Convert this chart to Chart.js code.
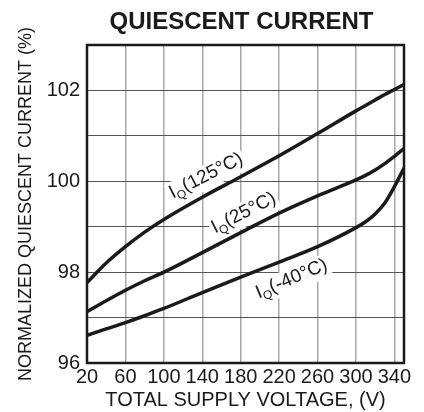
<!DOCTYPE html>
<html>
<head>
<meta charset="utf-8">
<script src="https://cdn.jsdelivr.net/npm/chart.js@4"></script>
<style>
  body { margin: 0; background: #fff; }
  canvas { display: block; }
</style>
</head>
<body>
<canvas id="graphique" width="424" height="412"></canvas>
<script>
// values
var voltage = [20, 40, 60, 80, 100, 140, 180, 220, 260, 300, 310, 320, 330, 340, 350];
var iq125 = [97.77, 98.2, 98.56, 98.88, 99.16, 99.65, 100.1, 100.56, 101.05, 101.55, 101.67, 101.79, 101.91, 102.02, 102.13];
var iq25 = [97.13, 97.37, 97.6, 97.81, 98.0, 98.43, 98.87, 99.3, 99.68, 100.03, 100.13, 100.25, 100.39, 100.55, 100.72];
var iqm40 = [96.61, 96.75, 96.89, 97.04, 97.2, 97.55, 97.89, 98.22, 98.56, 98.98, 99.11, 99.28, 99.52, 99.88, 100.29];

var xTicks = [20, 60, 100, 140, 180, 220, 260, 300, 340];
var yTicks = [96, 97, 98, 99, 100, 101, 102, 103];
var temps = ['125°C', '25°C', '-40°C'];

var FONT = '"Liberation Sans", Arial, Helvetica, sans-serif';

function pts(ys) {
    return voltage.map(function(v, i) { return { x: v, y: ys[i] }; });
}

// where each curve name sits (in data units) and how it is tilted
var labelSpots = [
    { x: 144, y: 100.12, angle: -27 },
    { x: 183, y: 99.30, angle: -27 },
    { x: 233, y: 97.85, angle: -23 }
];

var extras = {
    id: 'extras',
    afterDatasetsDraw: function(chart) {
        var ctx = chart.ctx, a = chart.chartArea;
        var xs = chart.scales.x, ys = chart.scales.y;
        ctx.save();
        // frame
        ctx.strokeStyle = '#1a1a1a';
        ctx.lineWidth = 2.5;
        ctx.strokeRect(a.left, a.top, a.right - a.left, a.bottom - a.top);

        // curve names: I with subscript Q
        temps.forEach(function(t, i) {
            var s = labelSpots[i];
            var big = '19px ' + FONT, small = '12px ' + FONT;
            var rest = '(' + t + ')';
            ctx.font = big;
            var wI = ctx.measureText('I').width;
            var wR = ctx.measureText(rest).width;
            ctx.font = small;
            var wQ = ctx.measureText('Q').width;
            var w = wI + wQ + wR;
            ctx.save();
            ctx.translate(xs.getPixelForValue(s.x), ys.getPixelForValue(s.y));
            ctx.rotate(s.angle * Math.PI / 180);
            ctx.fillStyle = '#fff';
            ctx.fillRect(-w / 2 - 2, -11, w + 4, 24);
            ctx.fillStyle = '#1a1a1a';
            ctx.textBaseline = 'middle';
            ctx.textAlign = 'left';
            var x0 = -w / 2;
            ctx.font = big;
            ctx.fillText('I', x0, 0);
            ctx.font = small;
            ctx.fillText('Q', x0 + wI, 6);
            ctx.font = big;
            ctx.fillText(rest, x0 + wI + wQ, 0);
            ctx.restore();
        });

        // chart title centred over the plot
        ctx.font = 'bold 24px ' + FONT;
        ctx.fillStyle = '#1a1a1a';
        ctx.textAlign = 'center';
        ctx.textBaseline = 'middle';
        ctx.fillText('QUIESCENT CURRENT', (a.left + a.right) / 2 - 4, 22);
        ctx.restore();
    }
};

var ctx = document.getElementById('graphique').getContext('2d');

var common = { borderColor: '#1a1a1a', borderWidth: 3.5, pointRadius: 0, fill: false, cubicInterpolationMode: 'monotone' };

var chart = new Chart(ctx, {
    type: 'line',
    data: {
        datasets: [
            Object.assign({ label: 'IQ(125°C)', data: pts(iq125) }, common),
            Object.assign({ label: 'IQ(25°C)', data: pts(iq25) }, common),
            Object.assign({ label: 'IQ(-40°C)', data: pts(iqm40) }, common)
        ]
    },
    options: {
        responsive: false,
        animation: false,
        layout: { padding: { top: 45, right: 20, left: 0, bottom: 0 } },
        plugins: {
            legend: { display: false },
            tooltip: { enabled: false }
        },
        scales: {
            x: {
                type: 'linear',
                min: 20,
                max: 350,
                afterBuildTicks: function(s) { s.ticks = xTicks.map(function(v) { return { value: v }; }); },
                afterFit: function(s) { s.height = 49; },
                grid: { color: '#a8a8a8', lineWidth: 1.5, drawTicks: false },
                border: { display: false },
                ticks: { color: '#1a1a1a', padding: 2, maxRotation: 0, autoSkip: false, font: { family: FONT, size: 20 } },
                title: { display: true, text: 'TOTAL SUPPLY VOLTAGE, (V)', color: '#1a1a1a', font: { family: FONT, size: 20, lineHeight: 1 }, padding: { top: 0, bottom: 2 } }
            },
            y: {
                min: 96,
                max: 103,
                afterBuildTicks: function(s) { s.ticks = yTicks.map(function(v) { return { value: v }; }); },
                afterFit: function(s) { s.width = 87; },
                grid: { color: '#555', lineWidth: 1, drawTicks: false },
                border: { display: false },
                ticks: {
                    color: '#1a1a1a', padding: 7, autoSkip: false,
                    font: { family: FONT, size: 20 },
                    callback: function(v) { return (v % 2 === 0 && v < 103) ? v : ''; }
                },
                title: { display: true, text: 'NORMALIZED QUIESCENT CURRENT (%)', color: '#1a1a1a', font: { family: FONT, size: 18, lineHeight: 1 }, padding: { top: 17, bottom: 0 } }
            }
        }
    },
    plugins: [extras]
});
</script>
</body>
</html>
